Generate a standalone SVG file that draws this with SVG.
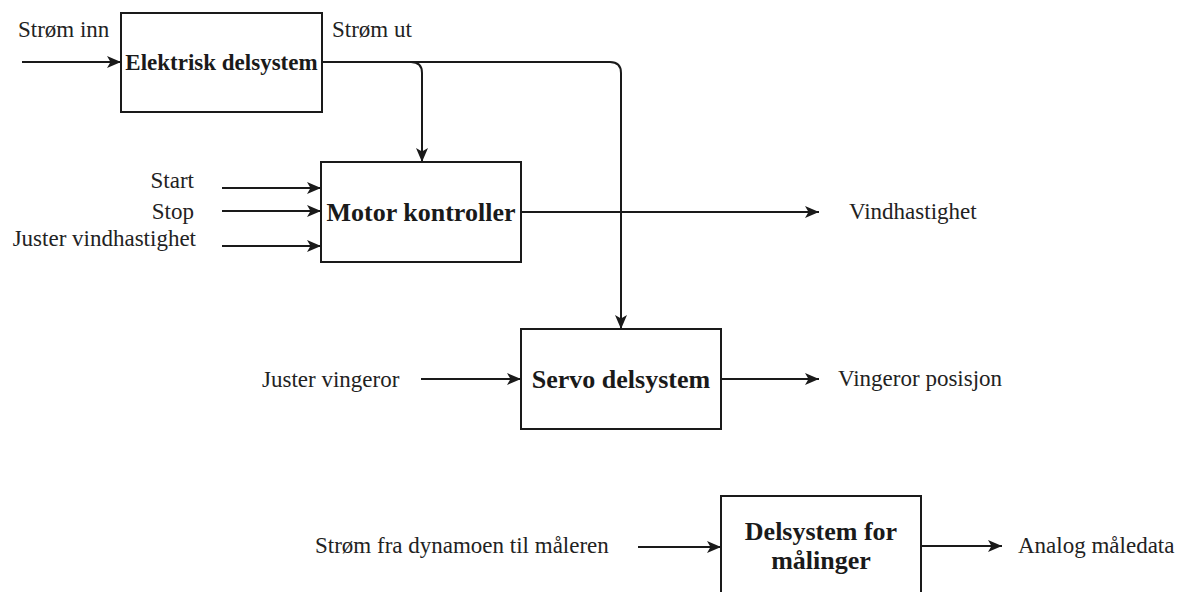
<svg xmlns="http://www.w3.org/2000/svg" width="1185" height="592" viewBox="0 0 1185 592">
  <style>
    .box { fill: #ffffff; stroke: #1a1a1a; stroke-width: 2; }
    .edge { fill: none; stroke: #1a1a1a; stroke-width: 2; }
    .lbl { font-family: "Liberation Serif", "Times New Roman", serif; font-size: 23px; fill: #222222; }
    .title { font-family: "Liberation Serif", "Times New Roman", serif; font-size: 26px; font-weight: bold; fill: #1a1a1a; text-anchor: middle; }
  </style>
  <defs>
    <marker id="arr" markerUnits="userSpaceOnUse" markerWidth="16" markerHeight="14" refX="14" refY="6" orient="auto">
      <path d="M0,0 L14,6 L0,12 L3.5,6 Z" fill="#1a1a1a"/>
    </marker>
  </defs>
  <rect width="1185" height="592" fill="#ffffff"/>

  <g id="connectors">
    <path class="edge" d="M22,62 H121" marker-end="url(#arr)"/>
    <path class="edge" d="M322,62 H411 Q422,62 422,73 V162" marker-end="url(#arr)"/>
    <path class="edge" d="M322,62 H610 Q621,62 621,73 V329" marker-end="url(#arr)"/>
    <path class="edge" d="M222,188 H321" marker-end="url(#arr)"/>
    <path class="edge" d="M222,211 H321" marker-end="url(#arr)"/>
    <path class="edge" d="M222,246 H321" marker-end="url(#arr)"/>
    <path class="edge" d="M521,212 H819" marker-end="url(#arr)"/>
    <path class="edge" d="M421,379 H521" marker-end="url(#arr)"/>
    <path class="edge" d="M721,379 H819" marker-end="url(#arr)"/>
    <path class="edge" d="M638,547 H721" marker-end="url(#arr)"/>
    <path class="edge" d="M921,546 H1002" marker-end="url(#arr)"/>
  </g>

  <g id="elektrisk">
    <rect class="box" x="121" y="13" width="201" height="99"/>
    <text class="title" x="221.5" y="70" style="font-size:23px">Elektrisk delsystem</text>
  </g>
  <g id="motor">
    <rect class="box" x="321" y="162" width="200" height="100"/>
    <text class="title" x="421" y="221">Motor kontroller</text>
  </g>
  <g id="servo">
    <rect class="box" x="521" y="329" width="200" height="100"/>
    <text class="title" x="621" y="388">Servo delsystem</text>
  </g>
  <g id="maling">
    <rect class="box" x="721" y="496" width="200" height="100"/>
    <text class="title" x="821" y="540">Delsystem for</text>
    <text class="title" x="821" y="569">målinger</text>
  </g>

  <g id="labels">
    <text class="lbl" x="18" y="37">Strøm inn</text>
    <text class="lbl" x="332" y="37">Strøm ut</text>
    <text class="lbl" x="194" y="188" text-anchor="end">Start</text>
    <text class="lbl" x="194" y="219" text-anchor="end">Stop</text>
    <text class="lbl" x="196" y="246" text-anchor="end">Juster vindhastighet</text>
    <text class="lbl" x="849" y="219">Vindhastighet</text>
    <text class="lbl" x="262" y="387">Juster vingeror</text>
    <text class="lbl" x="838" y="386">Vingeror posisjon</text>
    <text class="lbl" x="315" y="553">Strøm fra dynamoen til måleren</text>
    <text class="lbl" x="1018" y="553">Analog måledata</text>
  </g>
</svg>
